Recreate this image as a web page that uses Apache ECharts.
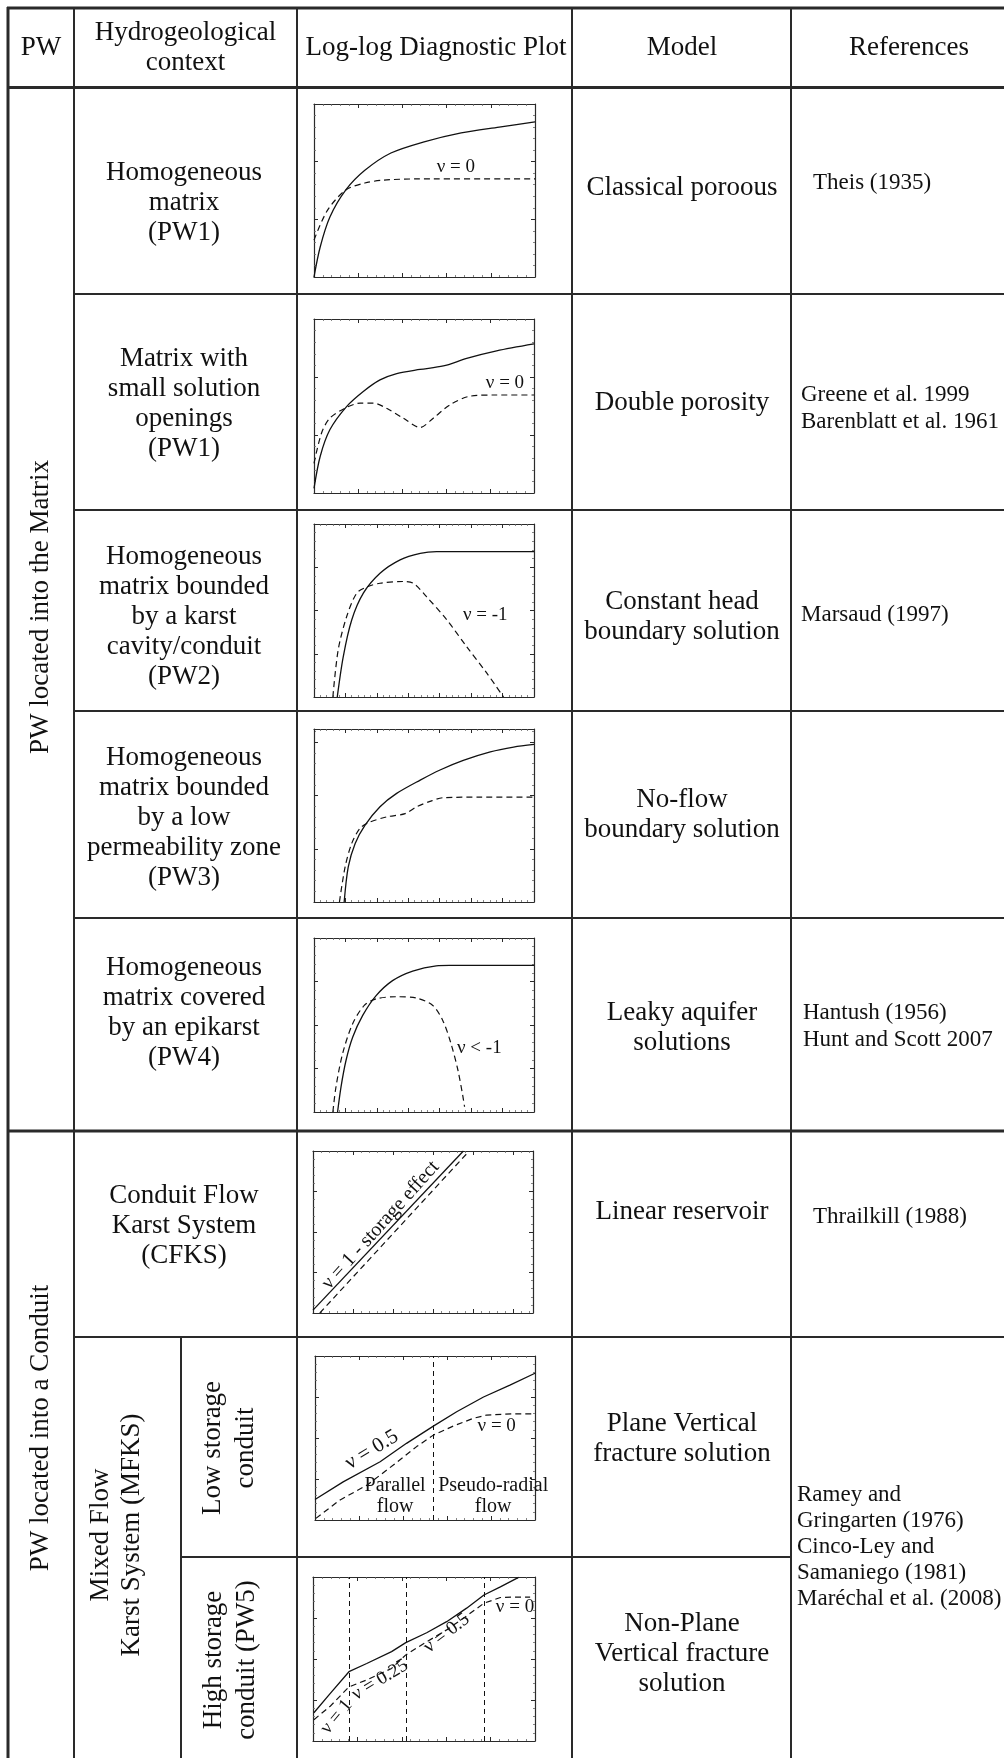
<!DOCTYPE html>
<html><head><meta charset="utf-8">
<script src="https://cdn.jsdelivr.net/npm/echarts@6/dist/echarts.min.js"></script>
<style>html,body{margin:0;padding:0;background:#fff}#c{width:1004px;height:1758px}</style>
</head><body><div id="c"></div>
<script>
// ---------------- texts ----------------
const headers = ['PW', 'Hydrogeological\ncontext', 'Log-log Diagnostic Plot', 'Model', 'References'];
const sections = ['PW located into the Matrix', 'PW located into a Conduit'];
const contexts = [
  'Homogeneous\nmatrix\n(PW1)',
  'Matrix with\nsmall solution\nopenings\n(PW1)',
  'Homogeneous\nmatrix bounded\nby a karst\ncavity/conduit\n(PW2)',
  'Homogeneous\nmatrix bounded\nby a low\npermeability zone\n(PW3)',
  'Homogeneous\nmatrix covered\nby an epikarst\n(PW4)',
  'Conduit Flow\nKarst System\n(CFKS)'
];
const mixedFlow = 'Mixed Flow\nKarst System (MFKS)';
const storageTypes = ['Low storage\nconduit', 'High storage\nconduit (PW5)'];
const models = [
  'Classical poroous', 'Double porosity', 'Constant head\nboundary solution',
  'No-flow\nboundary solution', 'Leaky aquifer\nsolutions', 'Linear reservoir',
  'Plane Vertical\nfracture solution', 'Non-Plane\nVertical fracture\nsolution'
];
const references = [
  'Theis (1935)', 'Greene et al. 1999\nBarenblatt et al. 1961', 'Marsaud (1997)', '',
  'Hantush (1956)\nHunt and Scott 2007', 'Thrailkill (1988)',
  'Ramey and\nGringarten (1976)\nCinco-Ley and\nSamaniego (1981)\nMaréchal et al. (2008)'
];

// ---------------- curves (log10 units: [log t, log value]) ----------------
const p1Drawdown   = [[0,0],[0.14,0.52],[0.36,1.04],[0.72,1.51],[1.15,1.85],[1.74,2.15],[2.47,2.34],[3.33,2.50],[4.19,2.60],[5.0,2.69]];
const p1Derivative = [[0,0.64],[0.3,1.15],[0.72,1.51],[1.15,1.63],[1.58,1.68],[2.3,1.70],[5.0,1.70]];

const p2Drawdown   = [[0,0.08],[0.14,0.63],[0.36,1.09],[0.74,1.49],[1.12,1.75],[1.5,1.95],[1.88,2.06],[2.41,2.13],[2.94,2.19],[3.47,2.32],[4.15,2.45],[5.0,2.57]];
const p2Derivative = [[0,0.51],[0.17,1.03],[0.36,1.29],[0.7,1.46],[1.05,1.55],[1.35,1.55],[1.65,1.46],[2.03,1.29],[2.41,1.13],[2.71,1.29],[3.09,1.52],[3.55,1.67],[4.15,1.69],[5.0,1.69]];

const p3Drawdown   = [[0.74,0],[0.93,0.93],[1.2,1.78],[1.57,2.4],[2.1,2.86],[2.74,3.17],[3.38,3.32],[3.9,3.36],[7.0,3.36]];
const p3Derivative = [[0.6,0],[0.77,1.09],[1.04,1.86],[1.36,2.4],[1.7,2.55],[2.1,2.63],[2.84,2.67],[3.16,2.63],[3.58,2.32],[4.23,1.78],[4.86,1.16],[5.5,0.55],[6.03,0]];

const p4Drawdown   = [[0.96,0],[1.09,0.66],[1.31,1.1],[1.62,1.44],[2.1,1.79],[2.63,2.04],[3.38,2.29],[4.01,2.48],[4.75,2.66],[5.61,2.82],[6.35,2.91],[7.0,2.96]];
const p4Derivative = [[0.81,0],[0.99,0.66],[1.2,1.1],[1.46,1.38],[1.73,1.49],[2.32,1.6],[2.9,1.66],[3.27,1.79],[3.69,1.89],[4.12,1.96],[5.29,1.97],[7.0,1.97]];

const p5Drawdown   = [[0.75,0],[0.86,0.58],[1.02,1.19],[1.23,1.72],[1.55,2.22],[1.97,2.67],[2.5,3.02],[3.14,3.24],[3.89,3.36],[4.31,3.37],[7.0,3.37]];
const p5Derivative = [[0.6,0],[0.7,0.58],[0.91,1.34],[1.23,2.03],[1.6,2.45],[1.97,2.6],[2.61,2.65],[3.25,2.62],[3.78,2.45],[4.1,2.1],[4.36,1.57],[4.58,0.96],[4.74,0.35],[4.79,0.12]];

const p6Drawdown   = [[0,0.07],[3.76,4.0]];
const p6Derivative = [[0.17,0],[3.84,3.93]];

const p7Drawdown   = [[0,0.5],[0.64,0.93],[1.48,1.42],[2.08,1.87],[2.69,2.29],[3.22,2.64],[3.83,3.0],[4.43,3.29],[5.0,3.58]];
const p7Derivative = [[0.02,0.04],[0.57,0.49],[1.18,0.85],[1.78,1.34],[2.31,1.79],[2.69,2.07],[3.14,2.29],[3.6,2.48],[3.9,2.56],[4.51,2.59],[5.0,2.59]];
const p7Regimes    = [2.69];

const p8Drawdown   = [[0.02,0.69],[0.38,1.15],[0.81,1.69],[1.21,1.89],[1.77,2.18],[2.09,2.4],[2.56,2.64],[3.01,2.91],[3.46,3.24],[3.85,3.56],[4.22,3.76],[4.63,3.99]];
const p8Derivative = [[0.02,0.52],[0.38,0.84],[0.81,1.32],[1.21,1.49],[1.77,1.77],[2.09,2.1],[2.56,2.42],[3.01,2.71],[3.46,3.05],[3.85,3.36],[4.22,3.5],[4.52,3.51],[4.89,3.51]];
const p8Regimes    = [0.81, 2.09, 3.85];

// axis extents (decades)
const xDecades = [5, 5, 7, 7, 7, 5.5, 5, 5];
const yDecades = [3, 3, 4, 3.25, 4, 4, 4, 4];

// annotations (text + data anchor)
const plotNotes = [
  [{text:'ν = 0', at:[3.21,1.91]}],
  [{text:'ν = 0', at:[4.34,1.9]}],
  [{text:'ν = -1', at:[5.45,1.9]}],
  [],
  [{text:'ν < -1', at:[5.26,1.46]}],
  [{text:'ν = 1 - storage effect', at:[1.69,2.17], rotate:48, size:20}],
  [{text:'ν = 0.5', at:[1.29,1.71], rotate:31, size:21},{text:'ν = 0', at:[4.13,2.29]},
   {text:'Parallel\nflow', at:[1.82,0.57], size:20},{text:'Pseudo-radial\nflow', at:[4.05,0.57], size:20}],
  [{text:'ν = 1', at:[0.53,0.59], rotate:50},{text:'ν = 0.25', at:[1.51,1.49], rotate:31},
   {text:'ν = 0.5', at:[3.01,2.63], rotate:38},{text:'ν = 0', at:[4.55,3.28]}]
];

const plots = [
  {s:p1Drawdown, d:p1Derivative, smooth:0.3},
  {s:p2Drawdown, d:p2Derivative, smooth:0.3},
  {s:p3Drawdown, d:p3Derivative, smooth:0.3},
  {s:p4Drawdown, d:p4Derivative, smooth:0.3},
  {s:p5Drawdown, d:p5Derivative, smooth:0.3},
  {s:p6Drawdown, d:p6Derivative, smooth:false},
  {s:p7Drawdown, d:p7Derivative, smooth:false, regimes:p7Regimes},
  {s:p8Drawdown, d:p8Derivative, smooth:false, regimes:p8Regimes}
];

// ---------------- layout ----------------
const FONT = '"Liberation Serif","Times New Roman",serif';
const INK = '#111111';
const LINE = '#2a2a2a';
const gridRects = [
  [314,104,221,173],[314,319,220,174],[314,524,220,173],[314,729,220,173],
  [314,938,220,174],[313,1151,220,162],[315,1356,220,164],[313,1577,222,164]
];

const grid = [], xAxis = [], yAxis = [], series = [];
function axisCommon(pos, max, gi) {
  return {
    type:'value', gridIndex:gi, min:0, max:max, interval:1, position:pos,
    axisLine:{show:true, onZero:false, lineStyle:{color:LINE, width:1.2}},
    axisTick:{show:true, inside:true, length:4, lineStyle:{color:LINE, width:1}},
    minorTick:{show:true, splitNumber:5, length:2, lineStyle:{color:'#666', width:0.8}},
    axisLabel:{show:false}, splitLine:{show:false}, minorSplitLine:{show:false}
  };
}
plots.forEach((p, i) => {
  const r = gridRects[i];
  grid.push({left:r[0], top:r[1], width:r[2], height:r[3], containLabel:false});
  xAxis.push(axisCommon('bottom', xDecades[i], i));
  xAxis.push(axisCommon('top', xDecades[i], i));
  yAxis.push(axisCommon('left', yDecades[i], i));
  yAxis.push(axisCommon('right', yDecades[i], i));
  const xi = 2*i, yi = 2*i;
  const sSer = {
    type:'line', xAxisIndex:xi, yAxisIndex:yi, data:p.s, symbol:'none', smooth:p.smooth,
    clip:true, lineStyle:{color:INK, width:1.3}, silent:true, z:3
  };
  if (p.regimes) {
    sSer.markLine = {symbol:'none', silent:true, label:{show:false},
      lineStyle:{type:[5,4], color:INK, width:1},
      data:p.regimes.map(v => ({xAxis:v}))};
  }
  series.push(sSer);
  series.push({
    type:'line', xAxisIndex:xi, yAxisIndex:yi, data:p.d, symbol:'none', smooth:p.smooth,
    clip:true, lineStyle:{color:INK, width:1.2, type:[6,4]}, silent:true, z:3
  });
  plotNotes[i].forEach(n => {
    series.push({
      type:'scatter', xAxisIndex:xi, yAxisIndex:yi, symbolSize:0, silent:true, clip:false,
      data:[n.at], z:5, itemStyle:{opacity:1, color:INK},
      label:{show:true, position:'inside', formatter:n.text, rotate:n.rotate || 0,
        fontFamily:FONT, fontSize:n.size || 19, color:INK, opacity:1, textBorderWidth:0,
        lineHeight:(n.size||19)+1}
    });
  });
});

// ---------------- table graphics ----------------
const g = [];
function hl(y, x1, x2, w) { g.push({type:'line', shape:{x1:x1, y1:y, x2:x2, y2:y}, style:{stroke:LINE, lineWidth:w}, z:10}); }
function vl(x, y1, y2, w) { g.push({type:'line', shape:{x1:x, y1:y1, x2:x, y2:y2}, style:{stroke:LINE, lineWidth:w}, z:10}); }
function txt(s, x, y, size, lh, align, rot) {
  g.push({type:'text', x:x, y:y, rotation:rot || 0, z:11,
    style:{text:s, x:0, y:0, fill:INK, font:size + 'px ' + FONT, fontSize:size, fontFamily:FONT,
      lineHeight:lh, align:align || 'center', textAlign:align || 'center',
      verticalAlign:'middle', textVerticalAlign:'middle'}});
}
// borders
hl(8, 7, 1004, 3);
hl(87.5, 7, 1004, 3);
[294, 510, 711, 918].forEach(y => hl(y, 74, 1004, 2));
hl(1131, 7, 1004, 3);
hl(1337, 74, 1004, 2);
hl(1557, 181, 791, 2);
vl(8, 7, 1758, 3);
[74, 297, 572, 791].forEach(x => vl(x, 7, 1758, 2));
vl(181, 1337, 1758, 2);

// header
const headerX = [41, 185.5, 436, 682, 909];
headers.forEach((h, i) => txt(h, headerX[i], 48, 27, 30));
// section labels (rotated)
txt(sections[0], 41, 607, 27, 30, 'center', Math.PI/2);
txt(sections[1], 41, 1428, 27, 30, 'center', Math.PI/2);
txt(mixedFlow, 116, 1535, 27, 31, 'center', Math.PI/2);
txt(storageTypes[0], 229, 1448, 27, 33, 'center', Math.PI/2);
txt(storageTypes[1], 230, 1660, 27, 33, 'center', Math.PI/2);
// contexts
const contextY = [203, 404, 617, 818, 1013, 1226];
contexts.forEach((c, i) => txt(c, 184, contextY[i], 27, 30));
// models
const modelY = [188, 403, 617, 815, 1028, 1212, 1439, 1654];
models.forEach((m, i) => txt(m, 682, modelY[i], 27, 30));
// references
const refPos = [[813,183],[801,408.5],[801,615],null,[803,1026.5],[813,1217],[797,1546.5]];
references.forEach((r, i) => {
  if (!r) return;
  txt(r, refPos[i][0], refPos[i][1], 23, i === 6 ? 26 : 27, 'left');
});

const chart = echarts.init(document.getElementById('c'), null, {renderer:'canvas'});
chart.setOption({
  backgroundColor:'#ffffff',
  animation:false,
  grid:grid, xAxis:xAxis, yAxis:yAxis, series:series,
  graphic:{elements:g}
});
</script>
</body></html>
